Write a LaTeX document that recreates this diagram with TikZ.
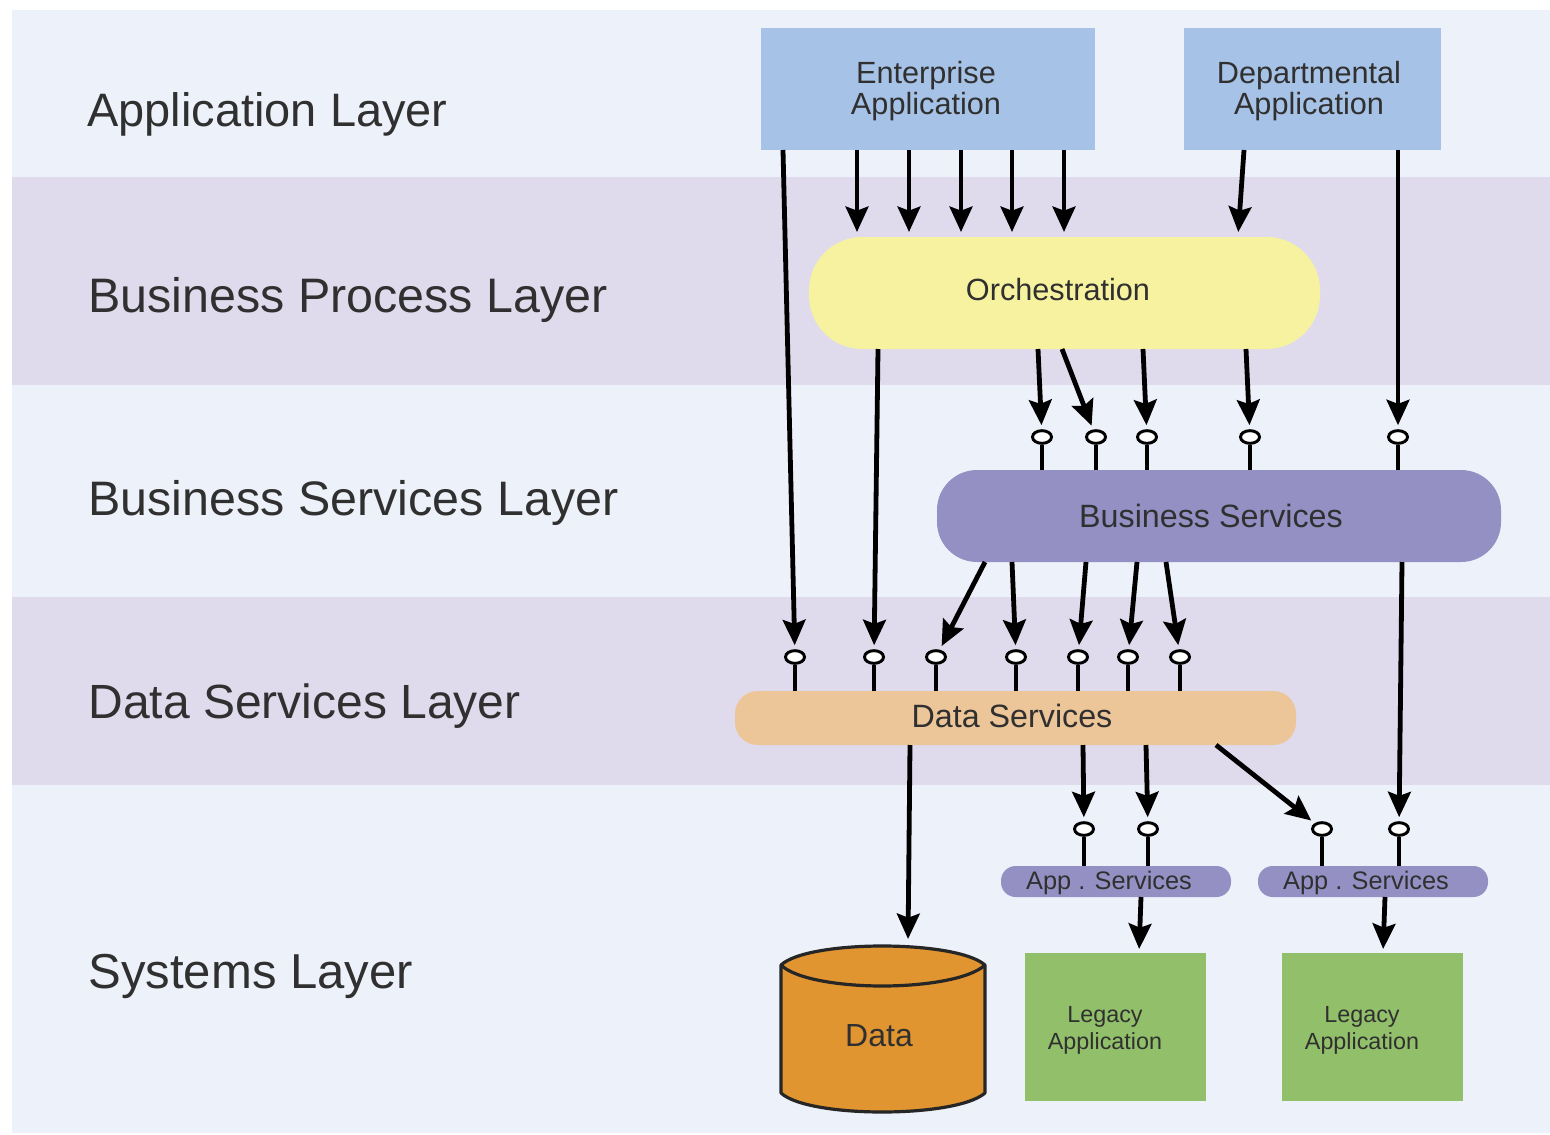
\documentclass[tikz,border=0pt]{standalone}
\usepackage{fontspec}
\setmainfont{Liberation Sans}
\usetikzlibrary{arrows.meta}
\definecolor{bandlight}{HTML}{EDF1FA}
\definecolor{bandviolet}{HTML}{DFDBEC}
\definecolor{appblue}{HTML}{A6C2E6}
\definecolor{orchyellow}{HTML}{F7F2A0}
\definecolor{busviolet}{HTML}{9490C4}
\definecolor{datatan}{HTML}{ECC698}
\definecolor{legacygreen}{HTML}{92C06A}
\definecolor{dataorange}{HTML}{E09530}
\definecolor{inkgrey}{HTML}{303030}
\tikzset{every picture/.style={line width=0.75pt}}
\tikzset{
  shapebox/.style={rectangle,inner sep=0pt},
  layertext/.style={anchor=base west,inner sep=0pt,text=inkgrey,font=\fontsize{36.3}{36}\selectfont},
  boxtext/.style={anchor=base,inner sep=0pt,text=inkgrey,align=center,font=\fontsize{23}{23}\selectfont},
  flow/.style={line width=3.6pt,shorten >=3pt,-{Stealth[length=19pt,width=17pt,inset=3pt]}},
  stem/.style={line width=3pt},
  port/.style={circle,draw,line width=2.2pt,fill=white,inner sep=0pt,minimum size=9.5pt,xscale=1.5}
}

\begin{document}
\begin{tikzpicture}[x=0.75pt,y=0.75pt,yscale=-1,xscale=1]
\useasboundingbox (0,0) rectangle (1550,1135);

%Bands
\fill [bandlight] (12,10) rectangle (1550,177);
\fill [bandviolet] (12,177) rectangle (1550,385);
\fill [bandlight] (12,385) rectangle (1550,597);
\fill [bandviolet] (12,597) rectangle (1550,785);
\fill [bandlight] (12,785) rectangle (1550,1133);

%Boxes
\node [shapebox,fill=appblue,minimum width=250.5pt,minimum height=91.5pt] (enterprise) at (928,89) {};
\node [shapebox,fill=appblue,minimum width=192.75pt,minimum height=91.5pt] (departmental) at (1312.5,89) {};
\node [shapebox,fill=orchyellow,rounded corners=40pt,minimum width=383.25pt,minimum height=84pt] (orchestration) at (1064.5,293) {};
\node [shapebox,fill=busviolet,rounded corners=30pt,minimum width=423pt,minimum height=69pt] (business) at (1219,516) {};
\node [shapebox,fill=datatan,rounded corners=17pt,minimum width=420.75pt,minimum height=40.5pt] (dataserv) at (1015.5,718) {};
\node [shapebox,fill=busviolet,rounded corners=11pt,minimum width=172.5pt,minimum height=23.25pt] (appservA) at (1116,881.5) {};
\node [shapebox,fill=busviolet,rounded corners=11pt,minimum width=172.5pt,minimum height=23.25pt] (appservB) at (1373,881.5) {};
\node [shapebox,fill=legacygreen,minimum width=135.75pt,minimum height=111pt] (legacyA) at (1115.5,1027) {};
\node [shapebox,fill=legacygreen,minimum width=135.75pt,minimum height=111pt] (legacyB) at (1372.5,1027) {};

%Shape: Cylinder
\draw [draw=black!85,fill=dataorange,line width=2.4pt,line join=round] (781,965) -- (781,1093) .. controls (795,1106) and (840,1112) .. (882,1112) .. controls (925,1112) and (970,1106) .. (985,1093) -- (985,965) .. controls (970,952) and (925,946) .. (882,946) .. controls (840,946) and (795,952) .. (781,965) -- cycle;
\draw [draw=black!85,line width=2.4pt] (781,965) .. controls (795,979) and (840,986) .. (882,986) .. controls (925,986) and (970,979) .. (985,965);

%Free ends of the arrows
\foreach \name/\x/\y in {eaA/783/150,eaB/857/150,eaC/909/150,eaD/961/150,eaE/1012/150,eaF/1064/150,
    daA/1244/150,daB/1398/150,
    orA/878/349,orB/1038/349,orC/1062/349,orD/1143/349,orE/1246/349,
    bsA/985/562,bsB/1012/562,bsC/1086/562,bsD/1137/562,bsE/1166/562,bsF/1402/562,
    dsA/910/745,dsB/1083/745,dsC/1146/745,dsD/1216/745,
    asA/1141/897,asB/1385/897,
    inA/857/236,inB/909/236,inC/961/236,inD/1012/236,inE/1064/236,inF/1238/236,
    inG/908/943,inH/1139/953,inI/1383/953}
  \coordinate (\name) at (\x,\y);

%Ports
\foreach \name/\x in {ptA/1042,ptB/1096,ptC/1147,ptD/1250,ptE/1398}
  {\node [port] (\name) at (\x,437) {};
   \draw [stem] (\name) -- (\name |- business.north);}
\foreach \name/\x in {ptF/795,ptG/874,ptH/936,ptI/1016,ptJ/1078,ptK/1128,ptL/1180}
  {\node [port] (\name) at (\x,657) {};
   \draw [stem] (\name) -- (\name |- dataserv.north);}
\foreach \name/\x in {ptM/1084,ptN/1148}
  {\node [port] (\name) at (\x,829) {};
   \draw [stem] (\name) -- (\name |- appservA.north);}
\foreach \name/\x in {ptO/1322,ptP/1399}
  {\node [port] (\name) at (\x,829) {};
   \draw [stem] (\name) -- (\name |- appservB.north);}

%Arrows
\foreach \from/\to in {eaA/ptF,eaB/inA,eaC/inB,eaD/inC,eaE/inD,eaF/inE,daA/inF,daB/ptE,
    orA/ptG,orB/ptA,orC/ptB,orD/ptC,orE/ptD,
    bsA/ptH,bsB/ptI,bsC/ptJ,bsD/ptK,bsE/ptL,bsF/ptP,
    dsA/inG,dsB/ptM,dsC/ptN,dsD/ptO,asA/inH,asB/inI}
  \draw [flow] (\from) -- (\to);

% Text Node
\node [layertext,font=\fontsize{35.2}{36}\selectfont] (applayer) at (87,126) {Application Layer};
\node [layertext] (proclayer) at (88,312) {Business Process Layer};
\node [layertext] (buslayer) at (88,515) {Business Services Layer};
\node [layertext,font=\fontsize{36}{36}\selectfont] (datalayer) at (88,718) {Data Services Layer};
\node [layertext,font=\fontsize{36.8}{36}\selectfont] (syslayer) at (88,988) {Systems Layer};
\node [boxtext,anchor=center] (enttext) at (926,91) {Enterprise\\Application};
\node [boxtext,anchor=center] (deptext) at (1309,91) {Departmental\\Application};
\node [boxtext] (orchtext) at (1058,300) {Orchestration};
\node [boxtext,font=\fontsize{24.2}{24}\selectfont] (bustext) at (1211,527) {Business Services};
\node [boxtext,font=\fontsize{24.2}{24}\selectfont] (dsvtext) at (1012,727) {Data Services};
\node [boxtext,font=\fontsize{19}{19}\selectfont] (appAtext) at (1109,889) {App . Services};
\node [boxtext,font=\fontsize{19}{19}\selectfont] (appBtext) at (1366,889) {App . Services};
\node [boxtext,anchor=center,font=\fontsize{17.5}{20.25}\selectfont] (legAtext) at (1105,1030) {Legacy\\Application};
\node [boxtext,anchor=center,font=\fontsize{17.5}{20.25}\selectfont] (legBtext) at (1362,1030) {Legacy\\Application};
\node [boxtext,font=\fontsize{24}{24}\selectfont] (datatext) at (879,1046) {Data};

\end{tikzpicture}
\end{document}
